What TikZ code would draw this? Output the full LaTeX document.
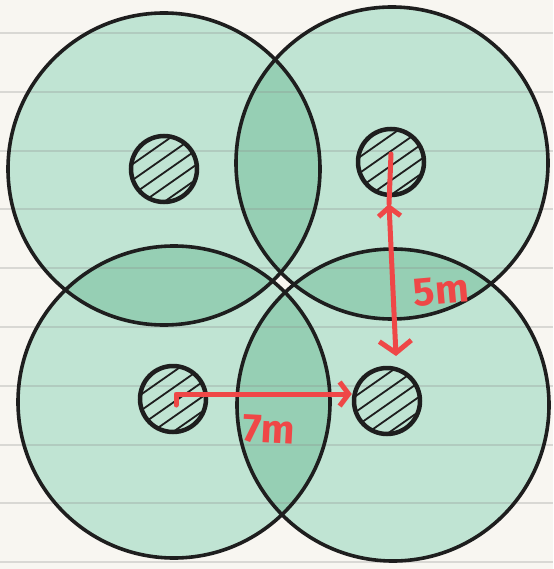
\documentclass[tikz,border=0pt]{standalone}
\usepackage{fontspec}
\setsansfont{Fira Sans}
\usepackage{tikz}
\usetikzlibrary{arrows.meta,positioning}
\usepackage{xcolor}
\definecolor{PaperColor}{HTML}{F8F6F1}
\definecolor{ZoneColor}{HTML}{C0E4D3}
\definecolor{OverlapColor}{HTML}{96CFB4}
\definecolor{InkColor}{HTML}{1E1E1E}
\definecolor{MarkRed}{HTML}{EF4747}

\begin{document}
\begin{tikzpicture}[x=1pt, y=-1pt,
    every node/.style={font=\sffamily\bfseries},
    zone/.style={draw=InkColor, line width=3.6pt},
    trunk/.style={circle, draw=InkColor, line width=4.5pt, minimum size=66pt,
      inner sep=0pt,
      path picture={
        \foreach \d in {-22,-9,3,15,27}
          \draw[InkColor, line width=1.8pt]
            ([shift={({0.574*\d-40},{0.819*\d+28})}]path picture bounding box.center) --
            ([shift={({0.574*\d+40},{0.819*\d-28})}]path picture bounding box.center);}},
    measure/.style={MarkRed, line width=5pt, line cap=round, line join=round},
    dist/.style={text=MarkRed, font=\sffamily\bfseries\fontsize{40}{40}\selectfont}]

  \fill[PaperColor] (0,0) rectangle (553,569);
  \useasboundingbox (0,0) rectangle (553,569);

  % sprinkler zones
  \foreach \n/\x/\y in {TL/164/169, TR/392/163, BL/174/402, BR/393/405}
    \coordinate (zone\n) at (\x,\y);
  \foreach \n in {TL,TR,BL,BR}
    \fill[ZoneColor] (zone\n) circle[radius=156];
  \foreach \a/\b in {TL/TR, TL/BL, TR/BR, BL/BR}{
    \begin{scope}
      \clip (zone\a) circle[radius=156];
      \fill[OverlapColor] (zone\b) circle[radius=156];
    \end{scope}}

  % ruled paper
  \foreach \k [evaluate=\k as \yy using 33+58.8*\k] in {0,...,9}
    \draw[line width=2pt, black!45, opacity=0.28] (0,\yy) -- (553,\yy);

  \foreach \n in {TL,TR,BL,BR}
    \draw[zone] (zone\n) circle[radius=156];

  % trees
  \node[trunk] (treeTL) at (164,169) {};
  \node[trunk] (treeTR) at (391,162) {};
  \node[trunk] (treeBL) at (173,399) {};
  \node[trunk] (treeBR) at (387,401) {};

  % distances
  \coordinate (hook) at ([shift={(3,-5)}]treeBL.center);
  \draw[measure, -{Straight Barb[length=9pt, width=24pt]}]
    ([shift={(3,6)}]treeBL.center) -- (hook) -- (treeBR.west |- hook);
  \coordinate (tipTop) at (389,204);
  \coordinate (tipBot) at (396,356);
  \draw[measure] ([yshift=8]treeTR.center) -- (tipTop);
  \draw[measure, {Straight Barb[length=9pt, width=22pt]}-{Straight Barb[length=12pt, width=32pt]}]
    (tipTop) -- (tipBot);

  \node[dist, rotate=5] (lblV) at (441,291) {5m};
  \node[dist, rotate=-3] (lblH) at (269,430) {7m};
\end{tikzpicture}
\end{document}
